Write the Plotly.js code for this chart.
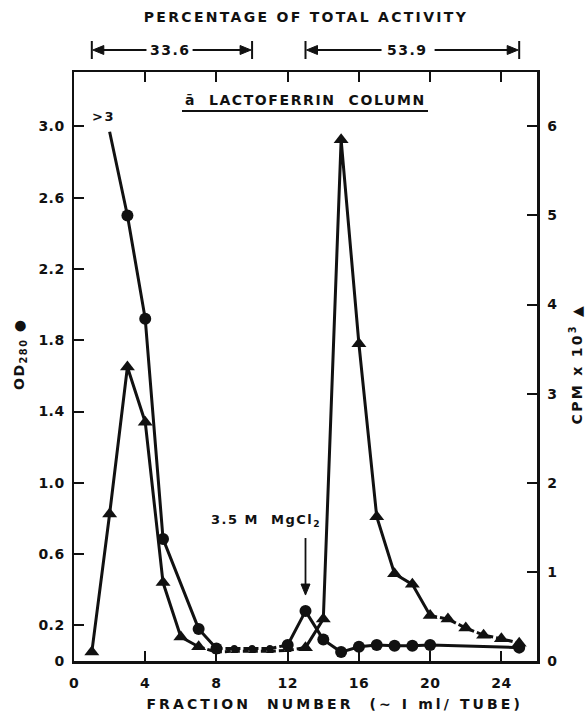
<!DOCTYPE html>
<html>
<head>
<meta charset="utf-8">
<script src="https://cdn.plot.ly/plotly-3.0.1.min.js"></script>
<style>
  html, body { margin: 0; padding: 0; background: #fff; }
  #chart { width: 587px; height: 712px; }
  .annotation-text { letter-spacing: 1.5px; }
  g.annotation[data-index="0"] text { letter-spacing: 2.3px; }
  g.annotation[data-index="3"] text { letter-spacing: 1.6px; }
  g.annotation[data-index="7"] text { letter-spacing: 2.3px; }
  g.annotation[data-index="8"] text { letter-spacing: 3.1px; }
  .xtick text, .ytick text, .y2tick text { letter-spacing: 0.5px; }
</style>
</head>
<body>
<div id="chart"></div>
<script>
// ---- data ----
// Fraction numbers for the CPM (triangle) series
const fractionCPM = [1, 2, 3, 4, 5, 6, 7, 8, 9, 10, 11, 12, 13, 14, 15, 16, 17, 18, 19, 20, 21, 22, 23, 24, 25];
// CPM x 10^3 (right axis)
const cpm = [0.1, 1.65, 3.3, 2.68, 0.88, 0.27, 0.16, 0.1, 0.11, 0.11, 0.11, 0.12, 0.15, 0.47, 5.85, 3.56, 1.62, 0.98, 0.86, 0.51, 0.47, 0.37, 0.29, 0.25, 0.2];
// Fraction numbers for the OD280 (circle) series; fraction 2 is off-scale (">3")
const fractionOD = [2, 3, 4, 5, 7, 8, 9, 10, 11, 12, 13, 14, 15, 16, 17, 18, 19, 20, 25];
const od280 = [2.97, 2.5, 1.92, 0.685, 0.18, 0.07, 0.07, 0.07, 0.07, 0.09, 0.28, 0.12, 0.05, 0.08, 0.09, 0.085, 0.085, 0.09, 0.075];
// tick labels
const xTicks = [0, 4, 8, 12, 16, 20, 24];
const odTicks = [0, 0.2, 0.6, 1.0, 1.4, 1.8, 2.2, 2.6, 3.0];
const odTickText = ['0', '0.2', '0.6', '1.0', '1.4', '1.8', '2.2', '2.6', '3.0'];
const cpmTicks = [0, 1, 2, 3, 4, 5, 6];
// percentage of total activity brackets (fraction ranges)
const bracketLeft = [1, 10];
const bracketRight = [13, 25];
const pctLeft = '33.6';
const pctRight = '53.9';
// fraction at which 3.5 M MgCl2 was applied
const mgcl2Fraction = 13;

// ---- styling ----
const FONT = 'DejaVu Sans, Liberation Sans, Arial, sans-serif';
const BLACK = '#111';
const LW = 3;

function seg(xs, ys, i0, i1, yaxis, dash) {
  return {
    x: xs.slice(i0, i1 + 1), y: ys.slice(i0, i1 + 1), yaxis: yaxis,
    type: 'scatter', mode: 'lines', hoverinfo: 'skip', showlegend: false,
    line: { color: BLACK, width: LW, dash: dash || 'solid' }
  };
}

const odSizes = fractionOD.map(f => f === 2 ? 0 : (f >= 9 && f <= 11 ? 7 : 12));
const cpmSizes = fractionCPM.map(f => (f >= 8 && f <= 12 ? 7 : 13));

const traces = [
  seg(fractionCPM, cpm, 0, 6, 'y2'),
  seg(fractionCPM, cpm, 6, 12, 'y2', '6px,3px'),
  seg(fractionCPM, cpm, 12, 19, 'y2'),
  seg(fractionCPM, cpm, 19, 24, 'y2', '7px,3px'),
  seg(fractionOD, od280, 0, 5, 'y'),
  seg(fractionOD, od280, 5, 9, 'y', '6px,3px'),
  seg(fractionOD, od280, 9, 18, 'y'),
  { x: fractionCPM, y: cpm, yaxis: 'y2', type: 'scatter', mode: 'markers', showlegend: false,
    marker: { symbol: 'triangle-up', size: cpmSizes, color: BLACK, opacity: 1, line: { width: 0 } } },
  { x: fractionOD, y: od280, yaxis: 'y', type: 'scatter', mode: 'markers', showlegend: false,
    marker: { symbol: 'circle', size: odSizes, color: BLACK, opacity: 1, line: { width: 0 } } }
];

// pixel helpers for paper placement of decorative text
const W = 587, H = 712, ML = 74, MR = 50, MT = 72, MB = 51;
const PW = W - ML - MR, PH = H - MT - MB;
const px = v => (v - ML) / PW;
const py = v => (H - MB - v) / PH;

const tfont = (s) => ({ family: FONT, size: s, color: BLACK, weight: 'bold' });

const annotations = [
  /*0*/ { text: 'PERCENTAGE OF TOTAL ACTIVITY', xref: 'paper', yref: 'paper', x: px(306), y: py(17),
    showarrow: false, font: tfont(14), xanchor: 'center', yanchor: 'middle' },
  /*1*/ { text: pctLeft, xref: 'x', yref: 'paper', x: 5.4, y: py(50),
    showarrow: false, font: tfont(14), xanchor: 'center', yanchor: 'middle' },
  /*2*/ { text: pctRight, xref: 'x', yref: 'paper', x: 18.75, y: py(50),
    showarrow: false, font: tfont(14), xanchor: 'center', yanchor: 'middle' },
  /*3*/ { text: 'ā  LACTOFERRIN  COLUMN', xref: 'paper', yref: 'paper', x: px(305), y: py(100),
    showarrow: false, font: tfont(14), xanchor: 'center', yanchor: 'middle' },
  /*4*/ { text: '>3', xref: 'x', yref: 'paper', x: 1.66, y: py(116),
    showarrow: false, font: tfont(13), xanchor: 'center', yanchor: 'middle' },
  /*5*/ { text: '3.5 M  MgCl<sub>2</sub>', xref: 'x', yref: 'y', x: 10.76, y: 0.79,
    showarrow: false, font: tfont(13), xanchor: 'center', yanchor: 'middle' },
  /*6*/ { text: 'OD<sub>280</sub> ●', xref: 'paper', yref: 'paper', x: px(20), y: py(354), textangle: -90,
    showarrow: false, font: tfont(14), xanchor: 'center', yanchor: 'middle' },
  /*7*/ { text: 'CPM x 10<sup>3</sup> ▲', xref: 'paper', yref: 'paper', x: px(576), y: py(364), textangle: -90,
    showarrow: false, font: tfont(14), xanchor: 'center', yanchor: 'middle' },
  /*8*/ { text: 'FRACTION  NUMBER  (~ I ml/ TUBE)', xref: 'paper', yref: 'paper', x: px(334), y: py(704),
    showarrow: false, font: tfont(14), xanchor: 'center', yanchor: 'middle' }
];

const LINE = { color: BLACK, width: 2 };
const bar = (xv) => ({ type: 'line', xref: 'x', yref: 'paper', x0: xv, x1: xv, y0: py(59), y1: py(41), line: LINE });
const shaft = (x0, x1) => ({ type: 'line', xref: 'x', yref: 'paper', x0: x0, x1: x1, y0: py(50), y1: py(50), line: LINE });
// arrowheads drawn in pixel units anchored at the tip
const headLeft = (xv) => ({ type: 'path', xref: 'x', yref: 'paper', xsizemode: 'pixel', ysizemode: 'pixel',
  xanchor: xv, yanchor: py(50), path: 'M1,0 L12,4.5 L12,-4.5 Z', fillcolor: BLACK, line: { color: BLACK, width: 1 } });
const headRight = (xv) => ({ type: 'path', xref: 'x', yref: 'paper', xsizemode: 'pixel', ysizemode: 'pixel',
  xanchor: xv, yanchor: py(50), path: 'M-1,0 L-12,4.5 L-12,-4.5 Z', fillcolor: BLACK, line: { color: BLACK, width: 1 } });

const shapes = [
  bar(bracketLeft[0]), bar(bracketLeft[1]), bar(bracketRight[0]), bar(bracketRight[1]),
  shaft(bracketLeft[0] + 0.3, 4.07), shaft(6.66, bracketLeft[1] - 0.3),
  shaft(bracketRight[0] + 0.3, 17.27), shaft(20.25, bracketRight[1] - 0.3),
  headLeft(bracketLeft[0]), headRight(bracketLeft[1]), headLeft(bracketRight[0]), headRight(bracketRight[1]),
  // underline of the panel title
  { type: 'line', xref: 'paper', yref: 'paper', x0: px(182), x1: px(428), y0: py(111), y1: py(111), line: LINE },
  // MgCl2 arrow
  { type: 'line', xref: 'x', yref: 'y', x0: mgcl2Fraction, x1: mgcl2Fraction, y0: 0.69, y1: 0.42,
    line: { color: BLACK, width: 1.8 } },
  { type: 'path', xref: 'x', yref: 'y', xsizemode: 'pixel', ysizemode: 'pixel', xanchor: mgcl2Fraction, yanchor: 0.37,
    path: 'M0,0 L-4.5,11 L4.5,11 Z', fillcolor: BLACK, line: { color: BLACK, width: 1 } }
];

const axisCommon = {
  showgrid: false, zeroline: false, showline: true, linecolor: BLACK, linewidth: 2.5,
  ticks: 'inside', ticklen: 10, tickwidth: 2, tickcolor: BLACK,
  tickfont: { family: FONT, size: 14, color: BLACK, weight: 'bold' }, fixedrange: true
};

const layout = {
  width: W, height: H,
  margin: { l: ML, r: MR, t: MT, b: MB, pad: 0 },
  paper_bgcolor: '#fff', plot_bgcolor: '#fff',
  showlegend: false,
  xaxis: Object.assign({}, axisCommon, { range: [0, 26], tickvals: xTicks, mirror: 'ticks', ticklabelstandoff: 8 }),
  yaxis: Object.assign({}, axisCommon, { range: [0, 3.305], tickvals: odTicks, ticktext: odTickText, ticklabelstandoff: 4 }),
  yaxis2: Object.assign({}, axisCommon, { range: [0, 6.61], tickvals: cpmTicks, overlaying: 'y', side: 'right', ticklabelstandoff: 5 }),
  annotations: annotations,
  shapes: shapes
};

Plotly.newPlot('chart', traces, layout, { displayModeBar: false, staticPlot: true });
</script>
</body>
</html>
